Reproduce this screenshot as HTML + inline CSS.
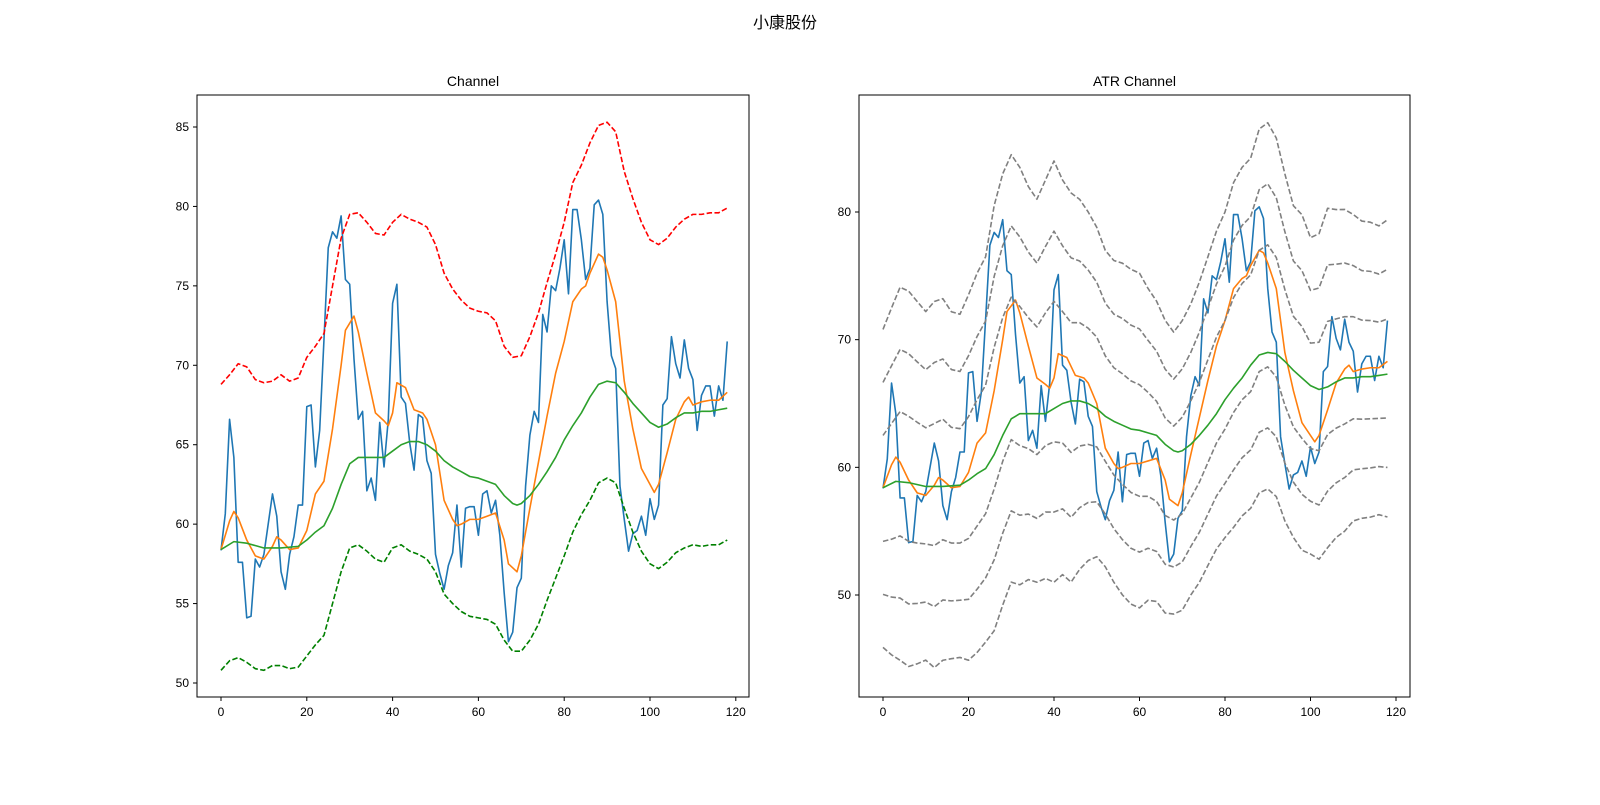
<!DOCTYPE html>
<html><head><meta charset="utf-8"><style>
body{margin:0;background:#fff;}
svg text{font-family:"Liberation Sans","Noto Sans CJK SC",sans-serif;fill:#000;}
</style></head><body>
<svg id="c" width="1600" height="800" xmlns="http://www.w3.org/2000/svg">
<rect width="1600" height="800" fill="#fff"/>
<text x="785" y="28" font-size="16" text-anchor="middle">小康股份</text>
</svg>
<script>
const closeVals=[58.35,60.65,66.6,64.2,57.6,57.6,54.1,54.2,57.8,57.3,58.1,60.0,61.9,60.5,57.0,55.9,58.1,59.2,61.2,61.2,67.4,67.5,63.6,65.9,71.6,77.4,78.4,78.0,79.4,75.4,75.1,70.4,66.6,67.1,62.1,62.9,61.5,66.4,63.6,66.6,73.9,75.1,68.0,67.6,65.1,63.4,66.9,66.7,64.0,63.2,58.1,56.9,55.9,57.4,58.2,61.2,57.3,61.0,61.1,61.1,59.3,61.9,62.1,60.7,61.5,59.3,55.7,52.6,53.2,56.0,56.6,62.4,65.6,67.1,66.4,73.2,72.1,75.0,74.7,76.1,77.9,74.5,79.8,79.8,77.9,75.4,76.1,80.1,80.4,79.5,74.0,70.6,69.8,62.4,60.3,58.3,59.4,59.6,60.5,59.3,61.6,60.3,61.2,67.5,67.9,71.8,70.1,69.2,71.6,69.8,69.1,65.9,68.1,68.7,68.7,66.8,68.7,67.8,71.5];
const fastIdx=[0,2,3,4,6,8,10,12,13,14,16,18,20,22,24,26,28,29,31,32,34,36,38,39,40,41,43,45,47,48,50,52,54,55,56,58,60,62,64,66,67,69,70,72,74,76,78,80,82,84,85,86,88,89,90,92,94,96,98,100,101,102,104,106,108,109,110,112,114,116,118];
const fastVals=[58.4,60.2,60.8,60.4,59.0,58.0,57.8,58.6,59.2,59.0,58.4,58.5,59.6,61.9,62.7,66.0,70.0,72.2,73.1,72.1,69.5,67.0,66.5,66.2,67.0,68.9,68.6,67.2,67.0,66.6,65.0,61.5,60.3,59.9,60.0,60.3,60.3,60.5,60.7,59.0,57.5,57.0,58.0,61.0,63.9,66.8,69.5,71.5,74.0,74.8,75.0,75.8,77.0,76.8,76.0,74.0,69.0,66.0,63.5,62.5,62.0,62.5,64.5,66.6,67.7,68.0,67.5,67.7,67.8,67.8,68.3];
const slowIdx=[0,3,6,10,14,18,20,22,24,26,28,30,32,34,36,38,40,42,44,46,48,50,52,54,56,58,60,62,64,66,68,69,70,72,74,76,78,80,82,84,86,88,90,92,94,96,98,100,102,104,106,108,110,112,114,116,118];
const slowVals=[58.4,58.9,58.8,58.5,58.5,58.6,59.0,59.5,59.9,61.0,62.5,63.8,64.2,64.2,64.2,64.2,64.6,65.0,65.2,65.2,65.0,64.6,64.0,63.6,63.3,63.0,62.9,62.7,62.5,61.8,61.3,61.2,61.3,61.8,62.5,63.3,64.2,65.3,66.2,67.0,68.0,68.8,69.0,68.9,68.3,67.6,67.0,66.4,66.1,66.3,66.7,67.0,67.0,67.1,67.1,67.2,67.3];
const chanIdx=[0,2,4,6,8,10,12,14,16,18,20,22,24,26,28,30,32,34,36,38,40,42,44,46,48,50,52,54,56,58,60,62,64,66,68,70,72,74,76,78,80,82,84,86,88,90,92,94,96,98,100,102,104,106,108,110,112,114,116,118];
const upperVals=[68.8,69.4,70.1,69.9,69.1,68.9,69.0,69.4,69.0,69.2,70.5,71.2,72.0,75.0,78.0,79.5,79.6,79.0,78.3,78.2,79.0,79.5,79.2,79.0,78.7,77.6,75.8,74.8,74.1,73.6,73.4,73.3,72.8,71.2,70.5,70.6,71.8,73.3,75.2,77.0,79.0,81.5,82.6,84.0,85.1,85.3,84.7,82.2,80.5,79.0,77.9,77.6,78.0,78.7,79.2,79.5,79.5,79.6,79.6,79.9];
const lowerVals=[50.8,51.4,51.6,51.3,50.9,50.8,51.1,51.1,50.9,51.0,51.7,52.4,53.0,55.0,57.0,58.5,58.7,58.3,57.8,57.6,58.5,58.7,58.3,58.1,57.8,57.0,55.6,55.0,54.5,54.2,54.1,54.0,53.7,52.7,52.0,52.0,52.7,53.7,55.2,56.6,58.0,59.5,60.6,61.5,62.6,62.9,62.6,61.0,59.5,58.3,57.5,57.2,57.6,58.2,58.5,58.7,58.6,58.7,58.7,59.0];
const bandMid=[58.35,58.9,59.5,59.1,58.8,58.55,58.65,59.05,58.6,58.55,59.2,60.35,61.4,63.85,66.1,67.75,67.15,66.6,66.0,66.9,67.5,67.05,66.25,66.5,66.35,65.9,64.6,63.6,63.0,62.4,62.1,61.8,61.25,60.05,59.55,60.15,61.4,62.75,64.4,66.05,67.25,68.8,69.85,70.5,72.25,72.65,71.75,69.4,67.5,66.65,65.6,65.55,67.0,67.35,67.6,67.8,67.65,67.65,67.6,67.75];
const bandAtr=[4.15,4.53,4.87,4.9,4.73,4.55,4.78,4.72,4.53,4.48,4.77,4.95,5.03,5.55,5.63,5.58,5.45,5.13,5.0,5.2,5.5,5.15,5.08,4.83,4.55,4.3,4.13,4.2,4.33,4.37,4.37,4.07,3.92,3.82,3.68,3.78,3.8,3.92,4.03,4.15,4.25,4.5,4.55,4.57,4.75,4.78,4.68,4.53,4.33,4.38,4.13,4.25,4.43,4.28,4.2,4.0,3.88,3.85,3.77,3.88];
const bandMults=[3,2,1,-1,-2,-3];
const xTicks=[0,20,40,60,80,100,120];
const leftYTicks=[50,55,60,65,70,75,80,85];
const rightYTicks=[50,60,70,80];

const NS="http://www.w3.org/2000/svg";
const svg=document.getElementById('c');
function mk(tag,attrs,parent){const e=document.createElementNS(NS,tag);for(const k in attrs)e.setAttribute(k,attrs[k]);(parent||svg).appendChild(e);return e;}

function makeAxes(name,box,xs,ys,yTicks,title){
  const g=mk('g',{});
  
  
  const frame=mk('rect',{x:box.x0,y:box.y0,width:box.x1-box.x0,height:box.y1-box.y0,fill:'none',stroke:'#000','stroke-width':1},g);
  
  
  xTicks.forEach(v=>{const x=xs(v);
    const t=mk('line',{x1:x,x2:x,y1:box.y1,y2:box.y1+4,stroke:'#000'},g);
    
    
    const l=mk('text',{x:x,y:box.y1+19,'font-size':12,'text-anchor':'middle'},g);l.textContent=v;
    
    
  });
  yTicks.forEach(v=>{const y=ys(v);
    const t=mk('line',{x1:box.x0-4,x2:box.x0,y1:y,y2:y,stroke:'#000'},g);
    
    
    const l=mk('text',{x:box.x0-8,y:y+4,'font-size':12,'text-anchor':'end'},g);l.textContent=v;
    
    
  });
  const tt=mk('text',{x:(box.x0+box.x1)/2,y:box.y0-9,'font-size':14,'text-anchor':'middle'},g);tt.textContent=title;
  
  
  return g;
}
function line(g,xs,ys,idx,vals,color,dash,name){
  const d=idx.map((i,k)=>(k?'L':'M')+xs(i).toFixed(2)+','+ys(vals[k]).toFixed(2)).join('');
  const p=mk('path',{d:d,fill:'none',stroke:color,'stroke-width':1.6,'stroke-linejoin':'round'},g);
  if(dash)p.setAttribute('stroke-dasharray','5.5,2.4');
  
  
}
const allIdx=closeVals.map((v,i)=>i);

// left
const LB={x0:197,x1:749,y0:95,y1:697};
const lx=i=>221+i*(735.8-221)/120;
const ly=v=>683-(v-50)*(683-127)/35;
const gl=makeAxes('channel-axes',LB,lx,ly,leftYTicks,'Channel');
line(gl,lx,ly,allIdx,closeVals,'#1f77b4',false,'close-line');
line(gl,lx,ly,fastIdx,fastVals,'#ff7f0e',false,'fast-ma-line');
line(gl,lx,ly,slowIdx,slowVals,'#2ca02c',false,'slow-ma-line');
line(gl,lx,ly,chanIdx,upperVals,'#ff0000',true,'upper-channel');
line(gl,lx,ly,chanIdx,lowerVals,'#008000',true,'lower-channel');

// right
const RB={x0:859,x1:1410,y0:95,y1:697};
const rx=i=>883+i*(1396-883)/120;
const ry=v=>595-(v-50)*(595-212)/30;
const gr=makeAxes('atr-channel-axes',RB,rx,ry,rightYTicks,'ATR Channel');
line(gr,rx,ry,allIdx,closeVals,'#1f77b4',false,'close-line');
line(gr,rx,ry,fastIdx,fastVals,'#ff7f0e',false,'fast-ma-line');
line(gr,rx,ry,slowIdx,slowVals,'#2ca02c',false,'slow-ma-line');
bandMults.forEach(m=>{
  const vals=bandMid.map((c,k)=>c+m*bandAtr[k]);
  line(gr,rx,ry,chanIdx,vals,'#808080',true,'atr-band-'+(m>0?'upper':'lower')+Math.abs(m));
});
</script>
</body></html>
